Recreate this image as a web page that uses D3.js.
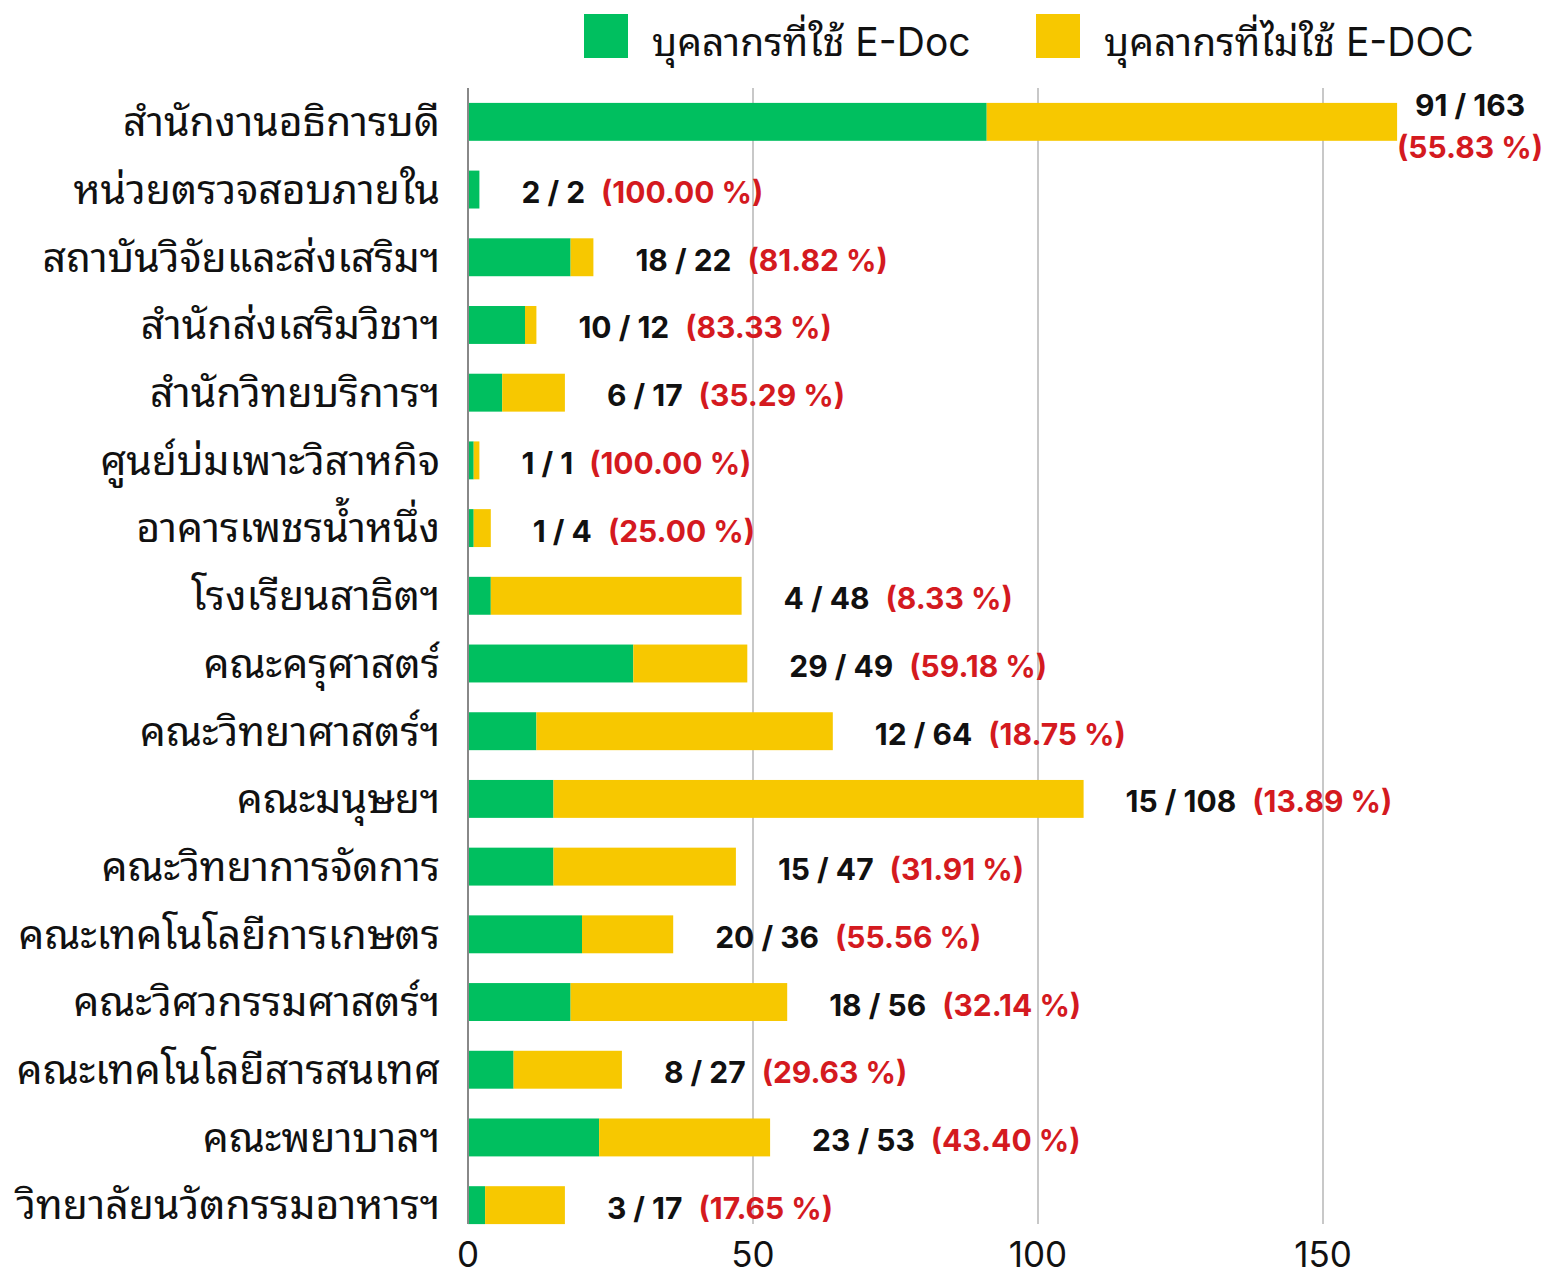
<!DOCTYPE html>
<html>
<head>
<meta charset="utf-8">
<script src="https://cdn.jsdelivr.net/npm/d3@7"></script>
<style>
  body { margin: 0; background: #fff; }
  text { font-family: "Inter", "Noto Sans Thai Looped", "Loma", "Garuda", "Norasi", "Tahoma", sans-serif; }
</style>
</head>
<body>
<script>
var width = 1542,
    height = 1277;

// departments, top to bottom
var units = [
  "สำนักงานอธิการบดี",
  "หน่วยตรวจสอบภายใน",
  "สถาบันวิจัยและส่งเสริมฯ",
  "สำนักส่งเสริมวิชาฯ",
  "สำนักวิทยบริการฯ",
  "ศูนย์บ่มเพาะวิสาหกิจ",
  "อาคารเพชรน้ำหนึ่ง",
  "โรงเรียนสาธิตฯ",
  "คณะครุศาสตร์",
  "คณะวิทยาศาสตร์ฯ",
  "คณะมนุษยฯ",
  "คณะวิทยาการจัดการ",
  "คณะเทคโนโลยีการเกษตร",
  "คณะวิศวกรรมศาสตร์ฯ",
  "คณะเทคโนโลยีสารสนเทศ",
  "คณะพยาบาลฯ",
  "วิทยาลัยนวัตกรรมอาหารฯ"
];
// bar segments as drawn
var users    = [91, 2, 18, 10, 6, 1, 1, 4, 29, 12, 15, 15, 20, 18, 8, 23, 3];
var nonUsers = [72, 0, 4, 2, 11, 1, 3, 44, 20, 52, 93, 32, 16, 38, 19, 30, 14];
// label text
var totals   = [163, 2, 22, 12, 17, 1, 4, 48, 49, 64, 108, 47, 36, 56, 27, 53, 17];
var percents = ["55.83", "100.00", "81.82", "83.33", "35.29", "100.00", "25.00", "8.33",
                "59.18", "18.75", "13.89", "31.91", "55.56", "32.14", "29.63", "43.40", "17.65"];
var seriesNames = ["บุคลากรที่ใช้ E-Doc", "บุคลากรที่ไม่ใช้ E-DOC"];
var colors = ["#00BF5F", "#F7C800"];
var ticks = [0, 50, 100, 150];

var svg = d3.select("body").append("svg")
    .attr("width", width)
    .attr("height", height);

var x = d3.scaleLinear()
    .domain([0, 190])
    .range([468, 468 + 190 * 5.7]);

var y = d3.scaleBand()
    .domain(units)
    .range([88, 1239])
    .paddingInner(0.44)
    .paddingOuter(0.22);

var plotBottom = y(units[units.length - 1]) + y.bandwidth();

// gridlines
svg.append("g")
  .selectAll("line")
  .data(ticks.slice(1))
  .enter().append("line")
    .attr("x1", function(d) { return x(d); })
    .attr("x2", function(d) { return x(d); })
    .attr("y1", 88)
    .attr("y2", plotBottom)
    .attr("stroke", "#c8c8c8")
    .attr("stroke-width", 2);

// stacked data
var rows = units.map(function(u, i) {
  return {unit: u, used: users[i], unused: nonUsers[i], total: totals[i], pct: percents[i]};
});
var stack = d3.stack().keys(["used", "unused"])(rows);

svg.append("g")
  .selectAll("g")
  .data(stack)
  .enter().append("g")
    .attr("fill", function(d, i) { return colors[i]; })
  .selectAll("rect")
  .data(function(d) { return d; })
  .enter().append("rect")
    .attr("x", function(d) { return x(d[0]); })
    .attr("width", function(d) { return x(d[1]) - x(d[0]); })
    .attr("y", function(d) { return y(d.data.unit); })
    .attr("height", y.bandwidth());

// axis line
svg.append("line")
    .attr("x1", x(0)).attr("x2", x(0))
    .attr("y1", 88).attr("y2", plotBottom)
    .attr("stroke", "#888")
    .attr("stroke-width", 2);

// tick labels
svg.append("g")
  .selectAll("text")
  .data(ticks)
  .enter().append("text")
    .attr("x", function(d) { return x(d); })
    .attr("y", 1267)
    .attr("text-anchor", "middle")
    .attr("font-size", 35)
    .attr("fill", "#111")
    .text(function(d) { return d; });

// category labels
svg.append("g")
  .selectAll("text")
  .data(units)
  .enter().append("text")
    .attr("x", 440)
    .attr("y", function(d) { return y(d) + y.bandwidth() / 2; })
    .attr("dy", "0.35em")
    .attr("text-anchor", "end")
    .attr("font-size", 41)
    .attr("fill", "#111")
    .text(function(d) { return d; });

// value labels
var labels = svg.append("g")
  .selectAll("text")
  .data(rows)
  .enter().append("text")
    .attr("font-size", 30)
    .attr("font-weight", "bold");

labels.each(function(d, i) {
  var t = d3.select(this);
  var cy = y(d.unit) + y.bandwidth() / 2;
  if (i === 0) {
    // largest bar: label wraps to two lines at the right edge
    t.attr("text-anchor", "middle").attr("y", cy - 6);
    t.append("tspan").attr("x", 1470).attr("fill", "#111").text(d.used + " / " + d.total);
    t.append("tspan").attr("x", 1470).attr("dy", 42).attr("fill", "#D41A1F").text("(" + d.pct + " %)");
  } else {
    t.attr("x", x(d.used + d.unused) + 42).attr("y", cy).attr("dy", "0.45em");
    t.append("tspan").attr("fill", "#111").text(d.used + " / " + d.total);
    t.append("tspan").attr("dx", 16).attr("fill", "#D41A1F").text("(" + d.pct + " %)");
  }
});

// legend
var legend = svg.append("g")
  .selectAll("g")
  .data(seriesNames)
  .enter().append("g")
    .attr("transform", function(d, i) { return "translate(" + [584, 1036][i] + ",14)"; });

legend.append("rect")
    .attr("width", 44).attr("height", 44)
    .attr("fill", function(d, i) { return colors[i]; });

legend.append("text")
    .attr("x", 68).attr("y", 28).attr("dy", "0.35em")
    .attr("font-size", 39)
    .attr("fill", "#111")
    .text(function(d) { return d; });
</script>
</body>
</html>
